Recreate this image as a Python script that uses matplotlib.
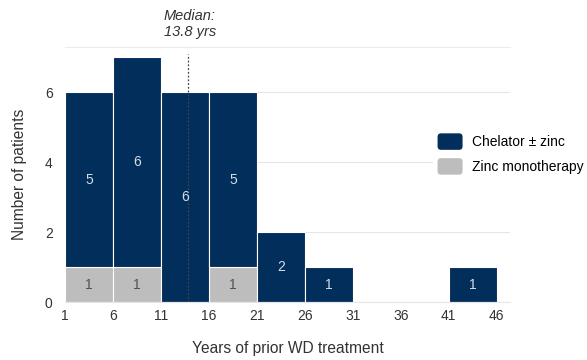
import matplotlib
matplotlib.use("Agg")
import matplotlib.pyplot as plt
from matplotlib.patches import FancyBboxPatch, Patch
from matplotlib.legend_handler import HandlerPatch

plt.rcParams["font.family"] = ["Liberation Sans", "DejaVu Sans"]

NAVY = "#022e5b"
GREY = "#bdbdbd"

bin_starts = [1, 6, 11, 16, 21, 26, 31, 36, 41]
bin_width = 5
zinc_mono = [1, 1, 0, 1, 0, 0, 0, 0, 0]
chelator = [5, 6, 6, 5, 2, 1, 0, 0, 1]
x_ticks = [1, 6, 11, 16, 21, 26, 31, 36, 41, 46]
y_ticks = [0, 2, 4, 6]
median_years = 13.8
series_names = ["Chelator \u00b1 zinc", "Zinc monotherapy"]

fig = plt.figure(figsize=(5.87, 3.6), dpi=100)
ax = fig.add_axes([0.111, 0.161, 0.758, 0.709])

ax.bar(bin_starts, zinc_mono, width=bin_width, align="edge", color=GREY,
       edgecolor="white", lw=0.8, zorder=2)
ax.bar(bin_starts, chelator, width=bin_width, bottom=zinc_mono, align="edge",
       color=NAVY, edgecolor="white", lw=0.8, zorder=2)

for x0, g, c in zip(bin_starts, zinc_mono, chelator):
    xc = x0 + bin_width / 2
    if g > 0:
        ax.text(xc, g / 2, str(g), ha="center", va="center", fontsize=10,
                color="#505050", zorder=4)
    if c > 0:
        ax.text(xc, g + c / 2, str(c), ha="center", va="center", fontsize=10,
                color="#d5dde6", zorder=4)

ax.axvline(median_years, ymin=0, ymax=0.97, color="#444444", ls=(0, (1.5, 1.5)),
           lw=0.9, zorder=3)
ax.text(median_years + 0.2, 7.95, "Median:\n13.8 yrs", ha="center", va="center",
        fontsize=10.5, style="italic", color="#333333", linespacing=1.25,
        clip_on=False)

ax.set_xlim(1, 47.4)
ax.set_ylim(0, 7.3)
ax.set_xticks(x_ticks)
ax.set_yticks(y_ticks)
ax.tick_params(length=0, labelsize=10, colors="#333333")
ax.tick_params(axis="x", pad=5)
ax.tick_params(axis="y", pad=9)
ax.grid(axis="y", color="#e6e6e6", lw=0.8, zorder=0)
for side in ["left", "right"]:
    ax.spines[side].set_visible(False)
ax.spines["top"].set_color("#ececec")
ax.spines["bottom"].set_color("#e6e6e6")

ax.set_xlabel("Years of prior WD treatment", fontsize=11.2, color="#333333", labelpad=13)
ax.set_ylabel("Number of patients", fontsize=11.2, color="#333333", labelpad=13)


class RoundHandler(HandlerPatch):
    def create_artists(self, legend, orig_handle, xdescent, ydescent, width,
                       height, fontsize, trans):
        p = FancyBboxPatch((-xdescent, -ydescent), width, height,
                           boxstyle="round,pad=0,rounding_size=2.5",
                           facecolor=orig_handle.get_facecolor(), edgecolor="none",
                           transform=trans)
        return [p]


handles = [Patch(facecolor=NAVY), Patch(facecolor=GREY)]
leg = ax.legend(handles, series_names, loc="center left",
                bbox_to_anchor=(0.812, 0.58), frameon=True, fontsize=10,
                handlelength=1.8, handleheight=1.45, handletextpad=0.7,
                labelspacing=0.6, borderpad=0.3,
                handler_map={Patch: RoundHandler()})
leg.get_frame().set_facecolor("white")
leg.get_frame().set_edgecolor("none")
leg.get_frame().set_alpha(1)
leg.set_clip_on(False)

fig.savefig("out.png", dpi=100)
